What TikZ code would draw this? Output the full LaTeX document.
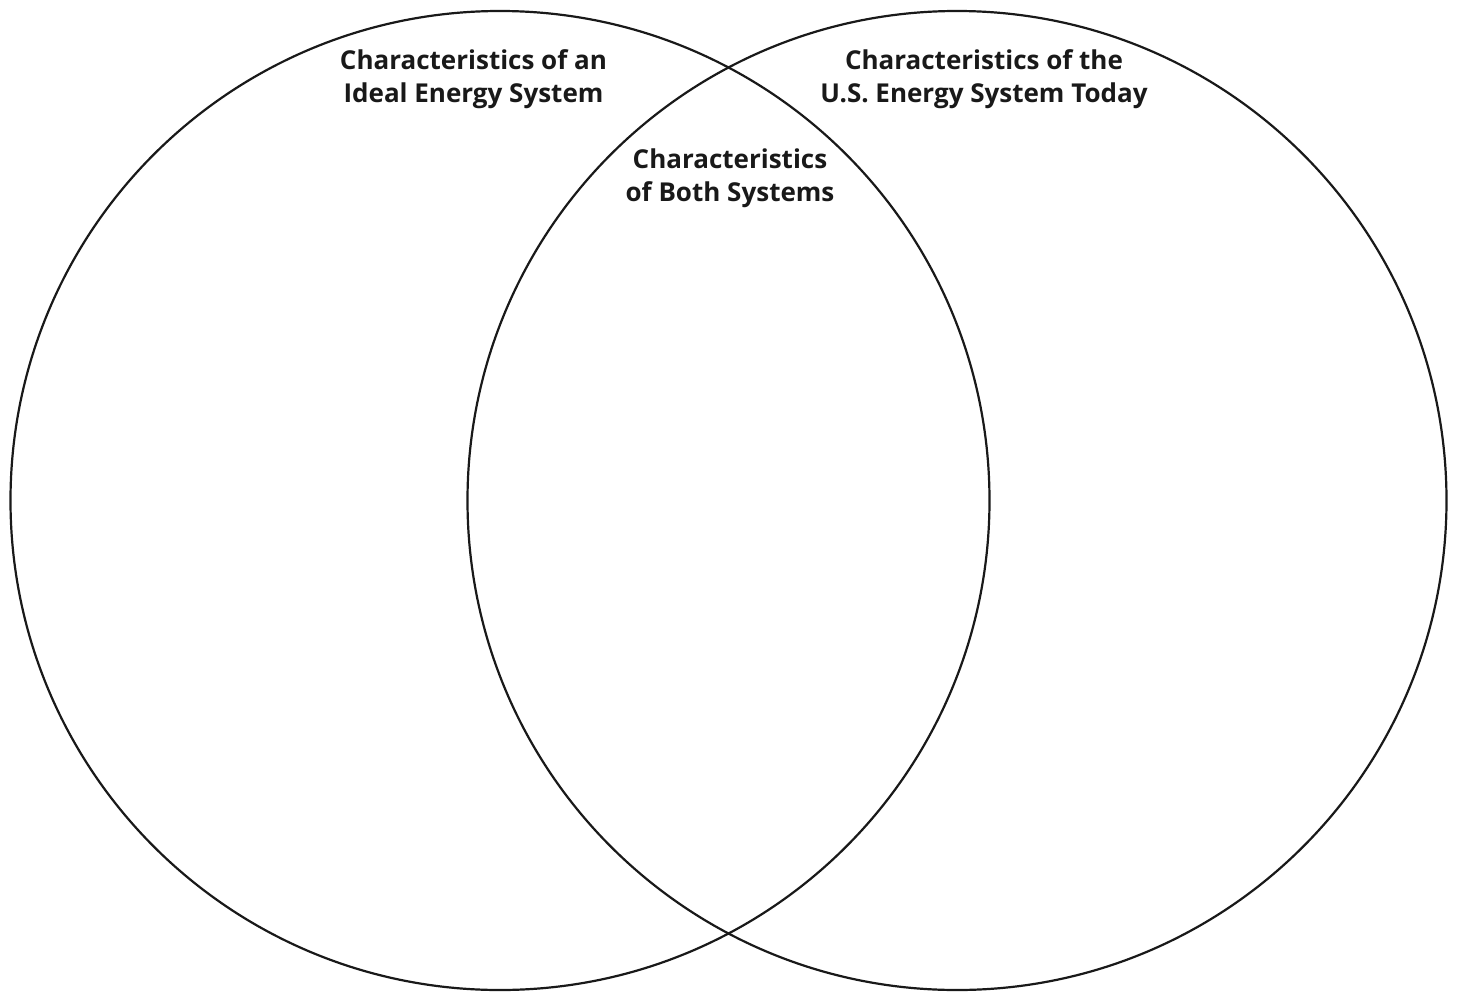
\documentclass[tikz,border=0pt]{standalone}
\usepackage{fontspec}
\setmainfont{Open Sans}
\usetikzlibrary{positioning}

\tikzset{
	label text/.style={font=\bfseries\fontsize{13}{16.5}\selectfont, align=center, text=black!90, inner sep=0pt},
	set circle/.style={line width=1.1pt, black!90}
}

\begin{document}
\begin{tikzpicture}[x=0.5pt, y=-0.5pt]
	\useasboundingbox (0,0) rectangle (1457,991);

	% centres of the two sets
	\coordinate (ideal) at (500,500.5);
	\coordinate (today) at (957,500.5);

	\draw[set circle] (ideal) circle[radius=489.5];
	\draw[set circle] (today) circle[radius=489.5];

	%labels
	\node[label text] (idealtitle) at (473.5,79) {Characteristics of an\\Ideal Energy System};
	\node[label text] (todaytitle) at (984,79) {Characteristics of the\\U.S. Energy System Today};
	\node[label text] (bothtitle) at (730,178) {Characteristics\\of Both Systems};

\end{tikzpicture}
\end{document}
